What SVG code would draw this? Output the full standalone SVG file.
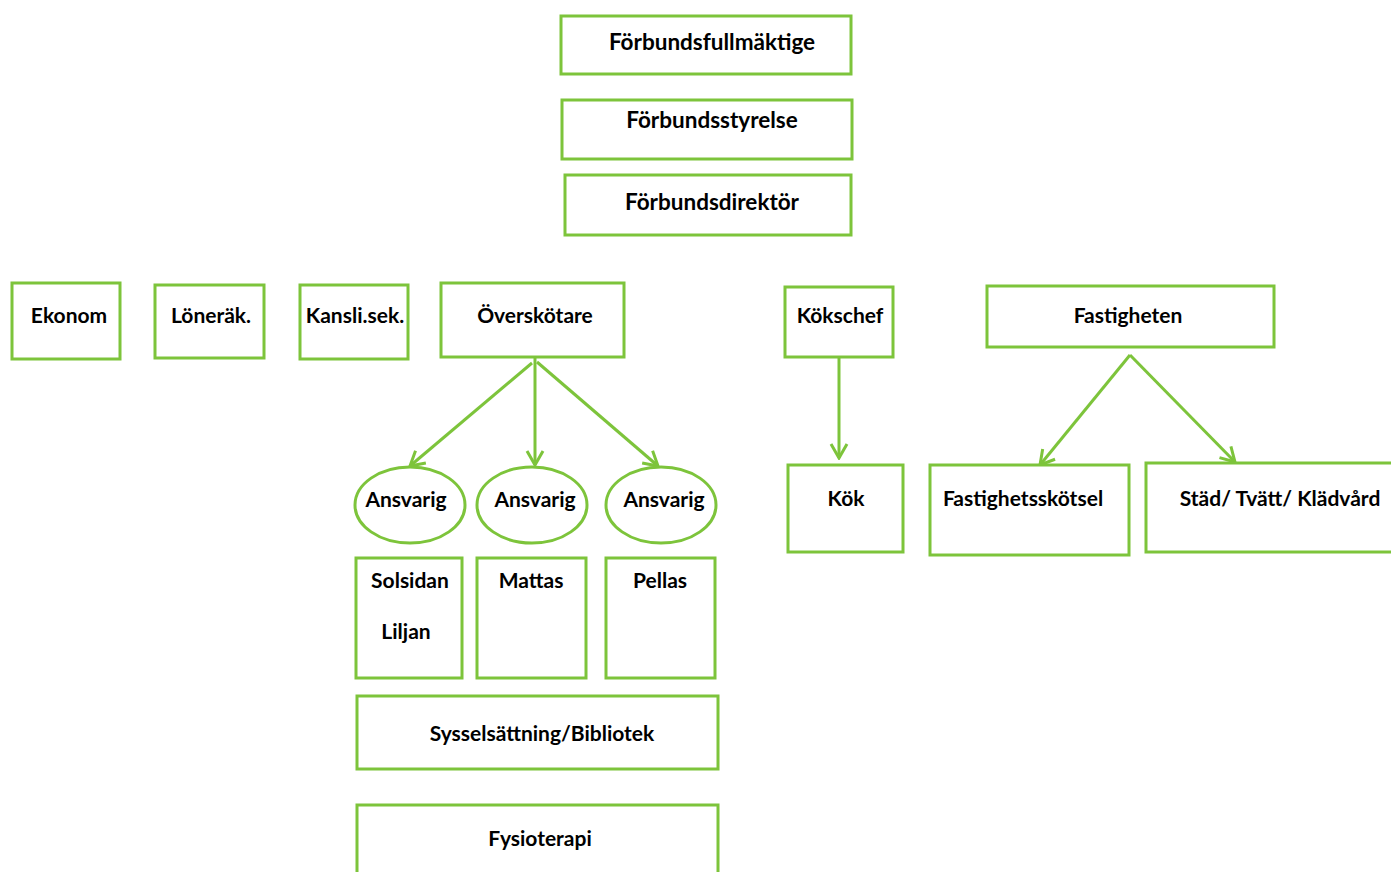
<svg xmlns="http://www.w3.org/2000/svg" width="1391" height="872" viewBox="0 0 1391 872">
<defs>
<style>
.b{fill:#fff;stroke:#7dc43b;stroke-width:3}
.t{font-family:Lato,"Open Sans","Liberation Sans",sans-serif;font-weight:bold;font-size:21px;fill:#000;text-anchor:middle}
.h{font-size:22.5px}
.c{fill:none;stroke:#7dc43b;stroke-width:3}
</style>
<marker id="a" viewBox="0 0 20 20" refX="18" refY="10" markerWidth="20" markerHeight="20" markerUnits="userSpaceOnUse" orient="auto">
<polyline points="4,2 18,10 4,18" fill="none" stroke="#7dc43b" stroke-width="3"/>
</marker>
</defs>
<rect width="1391" height="872" fill="#fff"/>
<g id="connectors">
<line class="c" x1="532" y1="363" x2="410" y2="466" marker-end="url(#a)"/>
<line class="c" x1="535" y1="358" x2="535" y2="465" marker-end="url(#a)"/>
<line class="c" x1="537" y1="362" x2="658" y2="466" marker-end="url(#a)"/>
<line class="c" x1="839" y1="358" x2="839" y2="458" marker-end="url(#a)"/>
<line class="c" x1="1130" y1="355" x2="1040" y2="465" marker-end="url(#a)"/>
<line class="c" x1="1130" y1="355" x2="1235" y2="462" marker-end="url(#a)"/>
</g>
<g id="n1"><rect class="b" x="561" y="16" width="290" height="58"/><text class="t h" x="712" y="50">Förbundsfullmäktige</text></g>
<g id="n2"><rect class="b" x="562" y="100" width="290" height="59"/><text class="t h" x="712" y="128">Förbundsstyrelse</text></g>
<g id="n3"><rect class="b" x="565" y="175" width="286" height="60"/><text class="t h" x="712" y="210">Förbundsdirektör</text></g>
<g id="n4"><rect class="b" x="12" y="283" width="108" height="76"/><text class="t" x="69" y="323">Ekonom</text></g>
<g id="n5"><rect class="b" x="155" y="285" width="109" height="73"/><text class="t" x="211" y="323">Löneräk.</text></g>
<g id="n6"><rect class="b" x="300" y="285" width="108" height="74"/><text class="t" x="355" y="323">Kansli.sek.</text></g>
<g id="n7"><rect class="b" x="441" y="283" width="183" height="74"/><text class="t" x="535" y="323">Överskötare</text></g>
<g id="n8"><rect class="b" x="785" y="287" width="108" height="70"/><text class="t" x="840" y="323">Kökschef</text></g>
<g id="n9"><rect class="b" x="987" y="286" width="287" height="61"/><text class="t" x="1128" y="323">Fastigheten</text></g>
<g id="e1"><ellipse class="b" cx="410" cy="505" rx="55" ry="38"/><text class="t" x="406" y="507">Ansvarig</text></g>
<g id="e2"><ellipse class="b" cx="532" cy="505" rx="55" ry="38"/><text class="t" x="535" y="507">Ansvarig</text></g>
<g id="e3"><ellipse class="b" cx="661" cy="505" rx="55" ry="38"/><text class="t" x="664" y="507">Ansvarig</text></g>
<g id="n10"><rect class="b" x="356" y="558" width="106" height="120"/><text class="t" x="410" y="588">Solsidan</text><text class="t" x="406" y="639">Liljan</text></g>
<g id="n11"><rect class="b" x="477" y="558" width="109" height="120"/><text class="t" x="531" y="588">Mattas</text></g>
<g id="n12"><rect class="b" x="606" y="558" width="109" height="120"/><text class="t" x="660" y="588">Pellas</text></g>
<g id="n13"><rect class="b" x="357" y="696" width="361" height="73"/><text class="t" x="542" y="741">Sysselsättning/Bibliotek</text></g>
<g id="n14"><rect class="b" x="357" y="805" width="361" height="80"/><text class="t" x="540" y="846">Fysioterapi</text></g>
<g id="n15"><rect class="b" x="788" y="465" width="115" height="87"/><text class="t" x="846" y="506">Kök</text></g>
<g id="n16"><rect class="b" x="930" y="465" width="199" height="90"/><text class="t" x="1023" y="506">Fastighetsskötsel</text></g>
<g id="n17"><rect class="b" x="1146" y="463" width="250" height="89"/><text class="t" x="1280" y="506">Städ/ Tvätt/ Klädvård</text></g>
</svg>
